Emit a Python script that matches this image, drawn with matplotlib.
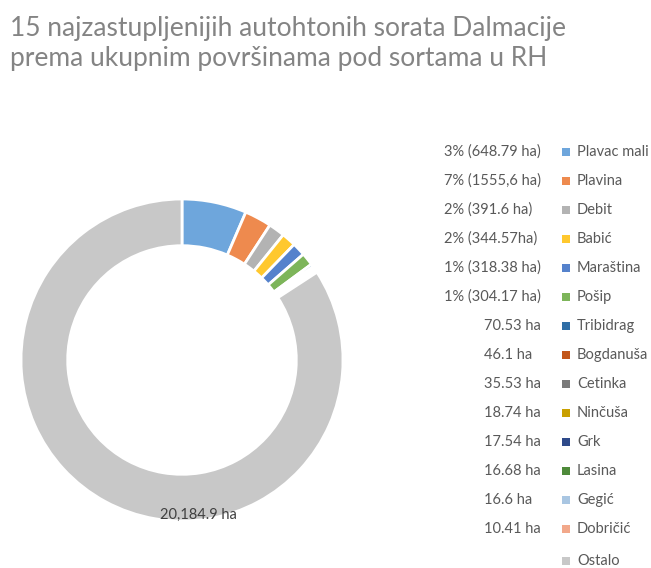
import matplotlib
matplotlib.use("Agg")
from matplotlib import pyplot as plt

# sorte (redoslijed kao u legendi), površine u ha
sorte = ['Plavac mali', 'Plavina', 'Debit', 'Babić', 'Maraština', 'Pošip',
         'Tribidrag', 'Bogdanuša', 'Cetinka', 'Ninčuša', 'Grk', 'Lasina',
         'Gegić', 'Dobričić', 'Ostalo']
povrsine = [1555.6, 648.79, 391.6, 344.57, 318.38, 304.17,
            70.53, 46.1, 35.53, 18.74, 17.54, 16.68,
            16.6, 10.41, 20184.9]
oznake = ['3% (648.79 ha)', '7% (1555,6 ha)', '2% (391.6 ha)', '2% (344.57ha)',
          '1% (318.38 ha)', '1% (304.17 ha)', '70.53 ha', '46.1 ha', '35.53 ha',
          '18.74 ha', '17.54 ha', '16.68 ha', '16.6 ha', '10.41 ha', '']
boje = ['#6EA6DC', '#EE8A4E', '#B3B3B3', '#FFC82E', '#5582CC', '#7DB55A',
        '#2F6EA6', '#C2561A', '#7A7A7A', '#C9A000', '#2E4A8A', '#4E8A3A',
        '#A9C6E2', '#F2A88A', '#C8C8C8']
ostalo_tekst = '20,184.9 ha'

W, H = 651, 568
font = ['Lato', 'DejaVu Sans']

fig = plt.figure(figsize=(W / 100, H / 100), dpi=100)
ax = fig.add_axes([0, 0, 1, 1])

fig.text(10 / W, 1 - 36 / H, '15 najzastupljenijih autohtonih sorata Dalmacije',
         fontsize=19, color='#848484', family=font,
         ha='left', va='baseline')
fig.text(10 / W, 1 - 66 / H, 'prema ukupnim površinama pod sortama u RH',
         fontsize=19, color='#848484', family=font,
         ha='left', va='baseline')

cx, cy, r = 182, H - 360, 161
ax.pie(povrsine, colors=boje, startangle=90, counterclock=False,
       center=(cx, cy), radius=r, frame=True,
       wedgeprops=dict(width=r * 0.29, edgecolor='white', linewidth=2))
ax.set_xlim(0, W)
ax.set_ylim(0, H)
ax.set_aspect('equal')
ax.axis('off')

ax.text(198, H - 515, ostalo_tekst, fontsize=10.5, color='#404040',
        family=font, ha='center', va='center')

y0, dy = 152, 29
for i, (s, o, b) in enumerate(zip(sorte, oznake, boje)):
    y = H - (y0 + i * dy) if i < 14 else H - 561
    ax.scatter([566], [y], marker='s', s=34, color=b, linewidths=0)
    ax.text(577, y, s, fontsize=10.5, color='#595959', family=font,
            ha='left', va='center')
    if o:
        x = 444 if '%' in o else 484
        ax.text(x, y, o, fontsize=10.5, color='#595959', family=font,
                ha='left', va='center')

fig.savefig('out.png', dpi=100, facecolor='white')
